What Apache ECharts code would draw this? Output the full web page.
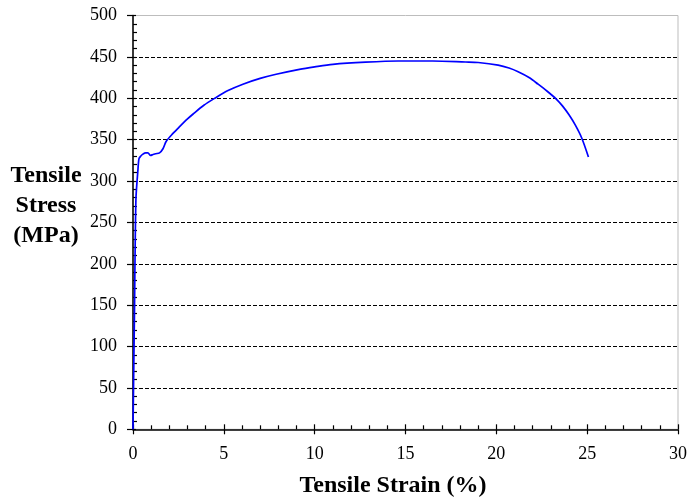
<!DOCTYPE html>
<html>
<head>
<meta charset="utf-8">
<script src="https://cdn.jsdelivr.net/npm/echarts@6/dist/echarts.min.js"></script>
<style>html,body{margin:0;padding:0;background:#fff;}#c{width:690px;height:497px;}</style>
</head>
<body>
<div id="c"></div>
<script>
const strain = [0, 0.08, 0.16, 0.27, 0.33, 0.42, 0.55, 0.7, 0.82, 0.97, 1.1, 1.25, 1.46, 1.65, 1.83, 2.2, 2.58, 3.0, 3.31, 3.9, 4.5, 5.2, 6.05, 7.0, 7.88, 9.16, 10, 11, 12.8, 14.6, 16.5, 18.3, 19.0, 20.1, 20.7, 21.2, 21.8, 22.3, 22.8, 23.3, 23.65, 24.0, 24.35, 24.7, 25.07];
const stress = [0, 140, 277, 313, 327, 330, 332.5, 334, 334, 331, 332, 333, 334, 339, 348, 357.5, 366, 375, 381, 391.5, 400, 409, 417, 424, 429, 435, 438, 441, 443.6, 445, 445, 443.8, 443.2, 440, 436.5, 432, 425, 417, 408.5, 399, 390.5, 380, 367.5, 352, 329];
const xTitle = 'Tensile Strain (%)';
const yTitle = 'Tensile\nStress\n(MPa)';

const font = "'Liberation Serif', 'Times New Roman', serif";
const data = strain.map((s, i) => [s, stress[i]]);

const chart = echarts.init(document.getElementById('c'));
chart.setOption({
  animation: false,
  backgroundColor: '#fff',
  grid: { left: 133, right: 10, top: 15.5, bottom: 67.7, show: true, borderColor: '#bdbdbd', borderWidth: 1 },
  xAxis: [
    {
      type: 'value', min: 0, max: 30, interval: 5,
      axisLine: { show: true, lineStyle: { color: '#000', width: 1.5 } },
      axisTick: { show: true, inside: true, length: 5, lineStyle: { color: '#000', width: 1.2 } },
      minorTick: { show: true, splitNumber: 5, length: 4, lineStyle: { color: '#000', width: 1.2 } },
      axisLabel: { color: '#000', fontFamily: font, fontSize: 18, margin: 16 },
      splitLine: { show: false }
    },
    {
      type: 'value', min: 0, max: 30, interval: 5, position: 'bottom', gridIndex: 0,
      axisLine: { show: false },
      axisTick: { show: true, inside: false, length: 5, lineStyle: { color: '#000', width: 1.2 } },
      axisLabel: { show: false },
      splitLine: { show: false }
    }
  ],
  yAxis: [
    {
      type: 'value', min: 0, max: 500, interval: 50,
      axisLine: { show: true, lineStyle: { color: '#000', width: 1.5 } },
      axisTick: { show: true, inside: true, length: 3, lineStyle: { color: '#000', width: 1.2 } },
      minorTick: { show: true, splitNumber: 5, length: 4, lineStyle: { color: '#000', width: 1.2 } },
      axisLabel: { color: '#000', fontFamily: font, fontSize: 18, margin: 16 },
      splitLine: { show: true, showMinLine: false, showMaxLine: false, lineStyle: { color: '#000', width: 1, type: [4, 2] } }
    },
    {
      type: 'value', min: 0, max: 500, interval: 50, position: 'left', gridIndex: 0,
      axisLine: { show: false },
      axisTick: { show: true, inside: false, length: 6, lineStyle: { color: '#000', width: 1.2 } },
      axisLabel: { show: false },
      splitLine: { show: false }
    }
  ],
  series: [{
    type: 'line', data: data, xAxisIndex: 0, yAxisIndex: 0,
    showSymbol: false, smooth: 0.3,
    lineStyle: { color: '#0000ff', width: 1.7 }
  }],
  graphic: [
    { type: 'text', x: 46, y: 206, style: { text: yTitle, fill: '#000', font: "bold 24px " + font, textAlign: 'center', textVerticalAlign: 'middle', lineHeight: 30 } },
    { type: 'text', x: 393, y: 486, style: { text: xTitle, fill: '#000', font: "bold 24px " + font, textAlign: 'center', textVerticalAlign: 'middle' } }
  ]
});
</script>
</body>
</html>
